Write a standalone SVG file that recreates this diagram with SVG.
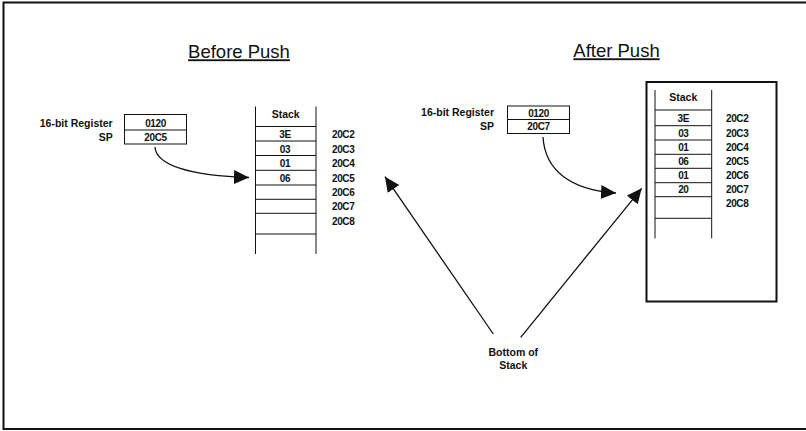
<svg xmlns="http://www.w3.org/2000/svg" width="806" height="431" viewBox="0 0 806 431">
<style>
  .t { font-family: "Liberation Sans", Arial, sans-serif; font-size: 10.5px; font-weight: bold; fill: #111; }
  .n { font-family: "Liberation Sans", Arial, sans-serif; font-size: 10px; font-weight: bold; fill: #111; letter-spacing: -0.4px; }
  .title { font-family: "Liberation Sans", Arial, sans-serif; font-size: 18.5px; fill: #111; text-decoration: underline; }
  .m { text-anchor: middle; }
  .e { text-anchor: end; }
  .thin { fill: none; stroke: #111; stroke-width: 1; }
  .frame { fill: none; stroke: #111; stroke-width: 2; }
  .conn { fill: none; stroke: #111; stroke-width: 1.3; marker-end: url(#ah); }
</style>
<defs>
  <marker id="ah" markerUnits="userSpaceOnUse" markerWidth="16" markerHeight="16" refX="15" refY="7" orient="auto">
    <path d="M0,0 L15,7 L0,14 z" fill="#111"/>
  </marker>
</defs>
<rect x="0" y="0" width="806" height="431" fill="#fff"/>
<rect class="frame" x="3.5" y="2.5" width="810" height="426.5"/>

<g id="title-before"><text class="title m" x="239" y="58.3">Before Push</text></g>
<g id="title-after"><text class="title m" x="616.5" y="57.3">After Push</text></g>

<g id="register-before">
  <text class="t e" x="112.7" y="127.3">16-bit Register</text>
  <text class="t e" x="112.7" y="140.7">SP</text>
  <rect class="thin" x="124.5" y="114.5" width="62" height="29.5"/>
  <line class="thin" x1="124.5" y1="130" x2="186.5" y2="130"/>
  <text class="n m" x="155.5" y="127.3">0120</text>
  <text class="n m" x="155.5" y="140.7">20C5</text>
</g>

<g id="stack-before">
  <line class="thin" x1="255.5" y1="106.5" x2="255.5" y2="254"/>
  <line class="thin" x1="316" y1="106.5" x2="316" y2="254"/>
  <text class="t m" x="285.7" y="118.3">Stack</text>
  <line class="thin" x1="255.5" y1="126.5" x2="316" y2="126.5"/>
  <line class="thin" x1="255.5" y1="141" x2="316" y2="141"/>
  <line class="thin" x1="255.5" y1="155.5" x2="316" y2="155.5"/>
  <line class="thin" x1="255.5" y1="170.3" x2="316" y2="170.3"/>
  <line class="thin" x1="255.5" y1="185" x2="316" y2="185"/>
  <line class="thin" x1="255.5" y1="199.3" x2="316" y2="199.3"/>
  <line class="thin" x1="255.5" y1="213.3" x2="316" y2="213.3"/>
  <line class="thin" x1="255.5" y1="234" x2="316" y2="234"/>
  <text class="n m" x="285" y="138.3">3E</text>
  <text class="n m" x="285" y="152.7">03</text>
  <text class="n m" x="285" y="167.2">01</text>
  <text class="n m" x="285" y="181.6">06</text>
  <text class="n" x="332" y="138.3">20C2</text>
  <text class="n" x="332" y="152.7">20C3</text>
  <text class="n" x="332" y="167.2">20C4</text>
  <text class="n" x="332" y="181.6">20C5</text>
  <text class="n" x="332" y="196">20C6</text>
  <text class="n" x="332" y="210.4">20C7</text>
  <text class="n" x="332" y="224.8">20C8</text>
</g>

<g id="register-after">
  <text class="t e" x="494" y="116">16-bit Register</text>
  <text class="t e" x="494" y="130">SP</text>
  <rect class="thin" x="507.5" y="106" width="62" height="27.5"/>
  <line class="thin" x1="507.5" y1="119.5" x2="569.5" y2="119.5"/>
  <text class="n m" x="538.5" y="116.5">0120</text>
  <text class="n m" x="538.5" y="130.3">20C7</text>
</g>

<g id="stack-after">
  <rect class="frame" x="646.5" y="82" width="130" height="219.5"/>
  <line class="thin" x1="655" y1="90" x2="655" y2="238.3"/>
  <line class="thin" x1="711.7" y1="90" x2="711.7" y2="238.3"/>
  <text class="t m" x="683.3" y="100.7">Stack</text>
  <line class="thin" x1="655" y1="110" x2="711.7" y2="110"/>
  <line class="thin" x1="655" y1="125.7" x2="711.7" y2="125.7"/>
  <line class="thin" x1="655" y1="140" x2="711.7" y2="140"/>
  <line class="thin" x1="655" y1="154.3" x2="711.7" y2="154.3"/>
  <line class="thin" x1="655" y1="168.3" x2="711.7" y2="168.3"/>
  <line class="thin" x1="655" y1="182.7" x2="711.7" y2="182.7"/>
  <line class="thin" x1="655" y1="196.7" x2="711.7" y2="196.7"/>
  <line class="thin" x1="655" y1="218.3" x2="711.7" y2="218.3"/>
  <text class="n m" x="683.3" y="122.3">3E</text>
  <text class="n m" x="683.3" y="136.7">03</text>
  <text class="n m" x="683.3" y="150.8">01</text>
  <text class="n m" x="683.3" y="165">06</text>
  <text class="n m" x="683.3" y="179.3">01</text>
  <text class="n m" x="683.3" y="193.4">20</text>
  <text class="n" x="726" y="122.3">20C2</text>
  <text class="n" x="726" y="136.7">20C3</text>
  <text class="n" x="726" y="150.8">20C4</text>
  <text class="n" x="726" y="165">20C5</text>
  <text class="n" x="726" y="179.3">20C6</text>
  <text class="n" x="726" y="193.4">20C7</text>
  <text class="n" x="726" y="207.4">20C8</text>
</g>

<g id="bottom-label">
  <text class="t m" x="513.3" y="356">Bottom of</text>
  <text class="t m" x="513.3" y="369">Stack</text>
</g>

<g id="connectors">
  <path class="conn" d="M155,147 C156,165 190,176 249,177.5"/>
  <path class="conn" d="M543,137 C545,170 570,190 616,193"/>
  <line class="conn" x1="493.3" y1="334" x2="385" y2="176.7"/>
  <line class="conn" x1="520.7" y1="337.3" x2="641.7" y2="188.3"/>
</g>
</svg>
